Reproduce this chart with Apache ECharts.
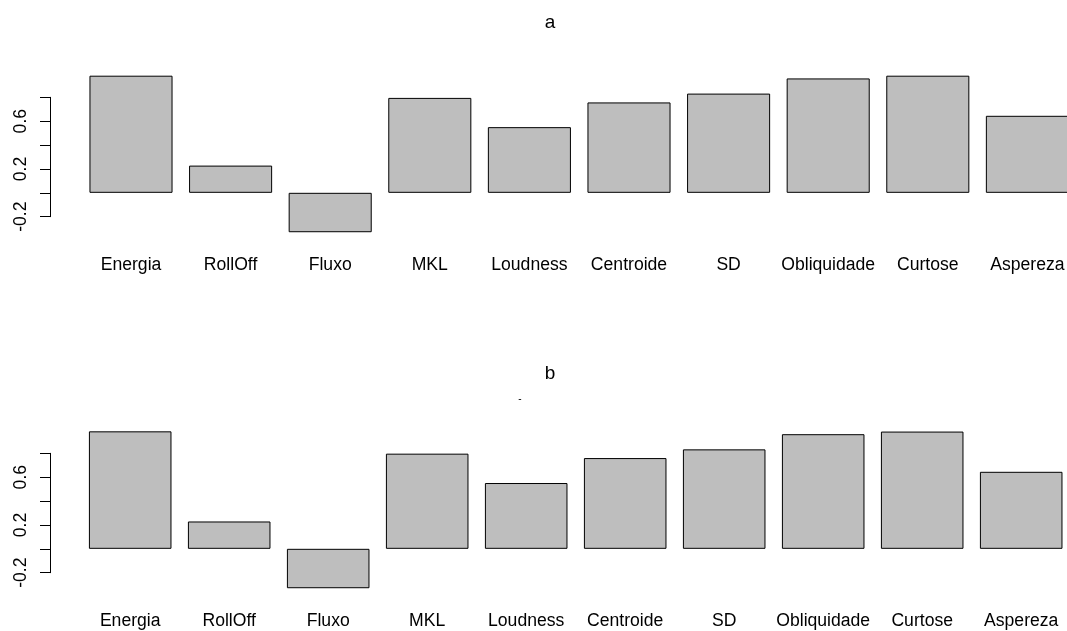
<!DOCTYPE html>
<html>
<head>
<meta charset="utf-8">
<script src="https://cdn.jsdelivr.net/npm/echarts@6/dist/echarts.min.js"></script>
<style>
html,body{margin:0;padding:0;background:#fff;}
#chart{width:1067px;height:631px;}
</style>
</head>
<body>
<div id="chart"></div>
<script>
const categories = ['Energia','RollOff','Fluxo','MKL','Loudness','Centroide','SD','Obliquidade','Curtose','Aspereza'];
const valuesA = [0.981, 0.228, -0.330, 0.795, 0.550, 0.757, 0.831, 0.958, 0.981, 0.645];
const valuesB = [0.984, 0.229, -0.330, 0.797, 0.551, 0.760, 0.833, 0.960, 0.982, 0.645];
const yTicksShown = [-0.2, 0.2, 0.6];
const panelTitles = ['a', 'b'];

const FONT = 'Liberation Sans, Arial, sans-serif';
const chart = echarts.init(document.getElementById('chart'), null, {renderer: 'canvas'});

function yAxisCfg(gridIndex, offset) {
  return {
    type: 'value', gridIndex: gridIndex, min: -0.2, max: 0.8, interval: 0.2,
    position: 'left', offset: offset,
    splitLine: {show: false},
    axisLine: {show: true, lineStyle: {color: '#000', width: 1}},
    axisTick: {show: true, length: 10, lineStyle: {color: '#000', width: 1}},
    axisLabel: {
      show: true, rotate: 90, margin: 20, color: '#000', fontSize: 17.6, fontFamily: FONT,
      formatter: function (v) {
        const r = Math.round(v * 10) / 10;
        return yTicksShown.some(t => Math.abs(t - r) < 1e-6) ? r.toFixed(1) : '';
      }
    }
  };
}
function xAxisCfg(gridIndex) {
  return {
    type: 'category', gridIndex: gridIndex, data: categories, boundaryGap: true,
    axisLine: {show: false}, axisTick: {show: false}, splitLine: {show: false},
    axisLabel: {show: true, interval: 0, margin: 39, color: '#000', fontSize: 17.6, fontFamily: FONT}
  };
}
function barSeries(idx, data) {
  return {
    type: 'bar', xAxisIndex: idx, yAxisIndex: idx, data: data, clip: false,
    barWidth: '83.4%',
    itemStyle: {color: '#bebebe', borderColor: '#000', borderWidth: 1},
    emphasis: {disabled: true}, animation: false
  };
}

chart.setOption({
  animation: false,
  backgroundColor: '#fff',
  title: [
    {text: panelTitles[0], left: 545, top: 8, textAlign: 'center',
     textStyle: {fontSize: 19, fontWeight: 'normal', color: '#000', fontFamily: FONT}},
    {text: panelTitles[1], left: 545, top: 359, textAlign: 'center',
     textStyle: {fontSize: 19, fontWeight: 'normal', color: '#000', fontFamily: FONT}},
    {text: '-', left: 515, top: 389, textAlign: 'center',
     textStyle: {fontSize: 10, fontWeight: 'normal', color: '#000', fontFamily: FONT}}
  ],
  grid: [
    {left: 81.2, top: 97.3, width: 996, height: 119.4, containLabel: false, outerBoundsMode: 'none'},
    {left: 80.7, top: 453.3, width: 990, height: 119.4, containLabel: false, outerBoundsMode: 'none'}
  ],
  xAxis: [xAxisCfg(0), xAxisCfg(1)],
  yAxis: [yAxisCfg(0, 31.2), yAxisCfg(1, 30.7)],
  series: [barSeries(0, valuesA), barSeries(1, valuesB)]
});
</script>
</body>
</html>
